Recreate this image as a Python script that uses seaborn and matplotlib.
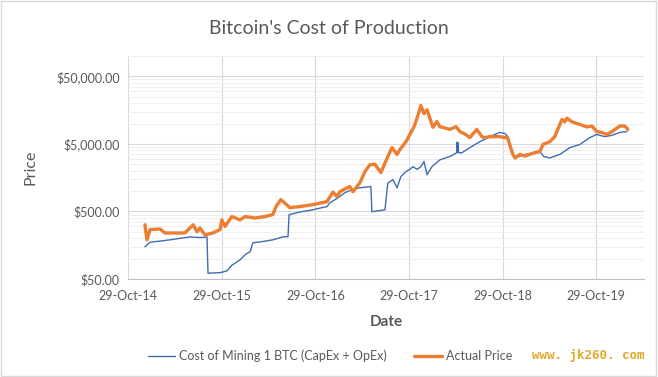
import matplotlib
matplotlib.use("Agg")
import matplotlib.pyplot as plt
import matplotlib.dates as mdates
import matplotlib.ticker as mticker
from matplotlib.lines import Line2D
from matplotlib.patches import Rectangle
import seaborn as sns
import pandas as pd

# ---- data ----
cost_dates = [
    "2015-01-03", "2015-01-23", "2015-02-20", "2015-04-11", "2015-05-20", "2015-06-28",
    "2015-08-06", "2015-09-02", "2015-09-06", "2015-10-23", "2015-11-19", "2015-12-08",
    "2016-01-09", "2016-01-28", "2016-02-17", "2016-02-28", "2016-04-01", "2016-05-16",
    "2016-06-24", "2016-07-14", "2016-07-18", "2016-08-29", "2016-10-19", "2016-11-15",
    "2016-12-13", "2016-12-24", "2017-01-21", "2017-02-21", "2017-03-20", "2017-04-20",
    "2017-06-02", "2017-06-06", "2017-07-27", "2017-08-07", "2017-08-27", "2017-09-12",
    "2017-09-27", "2017-10-17", "2017-11-01", "2017-11-13", "2017-11-29", "2017-12-14",
    "2017-12-26", "2018-01-07", "2018-01-26", "2018-02-26", "2018-04-06", "2018-05-03",
    "2018-05-04", "2018-05-06", "2018-05-08", "2018-05-10", "2018-05-23", "2018-06-23",
    "2018-08-01", "2018-09-09", "2018-10-18", "2018-11-07", "2018-11-18", "2018-12-04",
    "2018-12-16", "2019-01-24", "2019-03-23", "2019-04-07", "2019-05-01", "2019-06-09",
    "2019-07-18", "2019-08-26", "2019-10-04", "2019-10-31", "2019-12-01", "2019-12-29",
    "2020-01-29", "2020-02-25",
]
cost_values = [
    150, 175, 180, 190, 200, 210,
    205, 210, 61, 62, 66, 80,
    96, 114, 127, 172, 178, 190,
    210, 212, 447, 490, 530, 560,
    590, 670, 780, 950, 1050, 1120,
    1170, 495, 530, 1320, 1480, 1120,
    1640, 1950, 2100, 2300, 2100, 2300,
    2750, 1750, 2300, 2900, 3250, 3700,
    5300, 3750, 5200, 3700, 3700, 4400,
    5400, 6400, 7400, 7100, 6400, 3500,
    3100, 3500, 3850, 3250, 3100, 3500,
    4400, 4900, 6200, 6900, 6400, 6700,
    7400, 7600,
]

price_dates = [
    "2015-01-03", "2015-01-11", "2015-01-23", "2015-03-03", "2015-03-22", "2015-04-30",
    "2015-06-08", "2015-07-10", "2015-07-25", "2015-08-06", "2015-08-25", "2015-09-25",
    "2015-10-23", "2015-10-30", "2015-11-11", "2015-12-08", "2016-01-09", "2016-01-28",
    "2016-03-07", "2016-04-15", "2016-05-16", "2016-05-28", "2016-06-16", "2016-07-21",
    "2016-08-29", "2016-10-19", "2016-12-13", "2017-01-05", "2017-01-21", "2017-02-01",
    "2017-03-12", "2017-03-24", "2017-04-20", "2017-05-10", "2017-05-29", "2017-06-18",
    "2017-07-11", "2017-07-27", "2017-08-23", "2017-09-12", "2017-09-23", "2017-10-17",
    "2017-11-01", "2017-11-17", "2017-12-02", "2017-12-14", "2017-12-26", "2018-01-07",
    "2018-01-18", "2018-01-30", "2018-02-14", "2018-02-26", "2018-03-18", "2018-04-06",
    "2018-04-30", "2018-05-15", "2018-06-04", "2018-06-23", "2018-07-20", "2018-08-09",
    "2018-08-21", "2018-09-09", "2018-10-18", "2018-11-07", "2018-11-18", "2018-11-26",
    "2018-12-08", "2018-12-16", "2019-01-04", "2019-01-24", "2019-02-12", "2019-03-03",
    "2019-03-23", "2019-04-04", "2019-05-01", "2019-05-20", "2019-06-17", "2019-06-28",
    "2019-07-06", "2019-07-26", "2019-08-26", "2019-09-22", "2019-10-12", "2019-10-31",
    "2019-11-20", "2019-12-09", "2019-12-29", "2020-01-29", "2020-02-17", "2020-02-29",
]
price_values = [
    317, 190, 270, 275, 240, 240,
    240, 317, 250, 285, 225, 240,
    270, 375, 300, 420, 375, 420,
    400, 420, 450, 590, 750, 570,
    590, 630, 700, 970, 830, 980,
    1170, 980, 1320, 1950, 2450, 2500,
    1880, 2600, 4400, 3500, 4100, 5400,
    6900, 8900, 13000, 18500, 14000, 16000,
    12000, 8800, 10700, 9000, 8600, 8200,
    9000, 7600, 7000, 6200, 8200, 6400,
    6200, 6400, 6400, 6200, 6100, 4800,
    3500, 3100, 3500, 3300, 3500, 3700,
    3850, 4900, 5400, 6400, 11500, 10600,
    12000, 10600, 9700, 8900, 9200, 7600,
    7400, 6900, 7600, 9200, 9200, 8200,
]

cost_df = pd.DataFrame({"Date": pd.to_datetime(cost_dates), "Price": cost_values})
price_df = pd.DataFrame({"Date": pd.to_datetime(price_dates), "Price": price_values})

sns.set_theme(style="white")
plt.rcParams["font.family"] = ["Lato", "DejaVu Sans"]

grey_txt = "#595959"
blue = "#3F6CB0"
orange = "#ED7D31"

fig = plt.figure(figsize=(6.58, 3.77), dpi=100)
ax = fig.add_axes([128 / 658, 1 - 279 / 377, (644 - 128) / 658, (279 - 56) / 377])

sns.lineplot(data=cost_df, x="Date", y="Price", ax=ax, color=blue, linewidth=1.0)
sns.lineplot(data=price_df, x="Date", y="Price", ax=ax, color=orange, linewidth=2.4)

ax.set_yscale("log")
ax.set_ylim(50, 100000)
ax.set_xlim(pd.Timestamp("2014-10-29"), pd.Timestamp("2020-05-02"))

ax.yaxis.set_major_locator(mticker.FixedLocator([50, 500, 5000, 50000]))
ax.yaxis.set_major_formatter(mticker.FuncFormatter(lambda v, p: f"${v:,.2f}"))
minor = [d * k for d in [50, 500, 5000, 50000] for k in range(2, 10) if d * k <= 100000]
ax.yaxis.set_minor_locator(mticker.FixedLocator(minor))
ax.yaxis.set_minor_formatter(mticker.NullFormatter())

xticks = pd.to_datetime(["2014-10-29", "2015-10-29", "2016-10-29", "2017-10-29",
                         "2018-10-29", "2019-10-29"])
ax.set_xticks(xticks)
ax.xaxis.set_major_formatter(mdates.DateFormatter("%d-%b-%y"))

ax.grid(which="major", axis="both", color="#D9D9D9", linewidth=0.8)
ax.grid(which="minor", axis="y", color="#EDEDED", linewidth=0.6)
ax.set_axisbelow(True)

for side in ["top", "right", "left"]:
    ax.spines[side].set_visible(False)
ax.spines["bottom"].set_color("#BFBFBF")
ax.spines["bottom"].set_linewidth(0.8)

ax.tick_params(axis="x", which="major", length=4, color="#BFBFBF", colors=grey_txt,
               labelsize=9, pad=4)
ax.tick_params(axis="y", which="both", length=0, colors=grey_txt, labelsize=9, pad=6)

ax.set_xlabel("Date", color=grey_txt, fontsize=11, fontweight="bold", labelpad=9)
ax.set_ylabel("Price", color=grey_txt, fontsize=11.5)
ax.yaxis.set_label_coords(-0.175, 0.5)

fig.text(0.5, 1 - 28 / 377, "Bitcoin's Cost of Production", ha="center", va="center",
         fontsize=14, color=grey_txt)

handles = [Line2D([], [], color=blue, linewidth=1.0),
           Line2D([], [], color=orange, linewidth=2.4)]
leg = fig.legend(handles, ["Cost of Mining 1 BTC (CapEx + OpEx)", "Actual Price"],
                 loc="center", bbox_to_anchor=(330 / 658, 1 - 356 / 377), ncol=2,
                 frameon=False, fontsize=9, handlelength=2.2, handletextpad=0.3,
                 columnspacing=2.2)
for t in leg.get_texts():
    t.set_color(grey_txt)

fig.text(645 / 658, 1 - 356 / 377, "www. jk260. com", ha="right", va="center",
         fontsize=9, fontweight="bold", color="#E0A92A", family="DejaVu Sans Mono")

fig.patches.append(Rectangle((0.002, 0.003), 0.995, 0.994, transform=fig.transFigure,
                             fill=False, edgecolor="#D9D9D9", linewidth=1.0))

fig.savefig("out.png", dpi=100)
